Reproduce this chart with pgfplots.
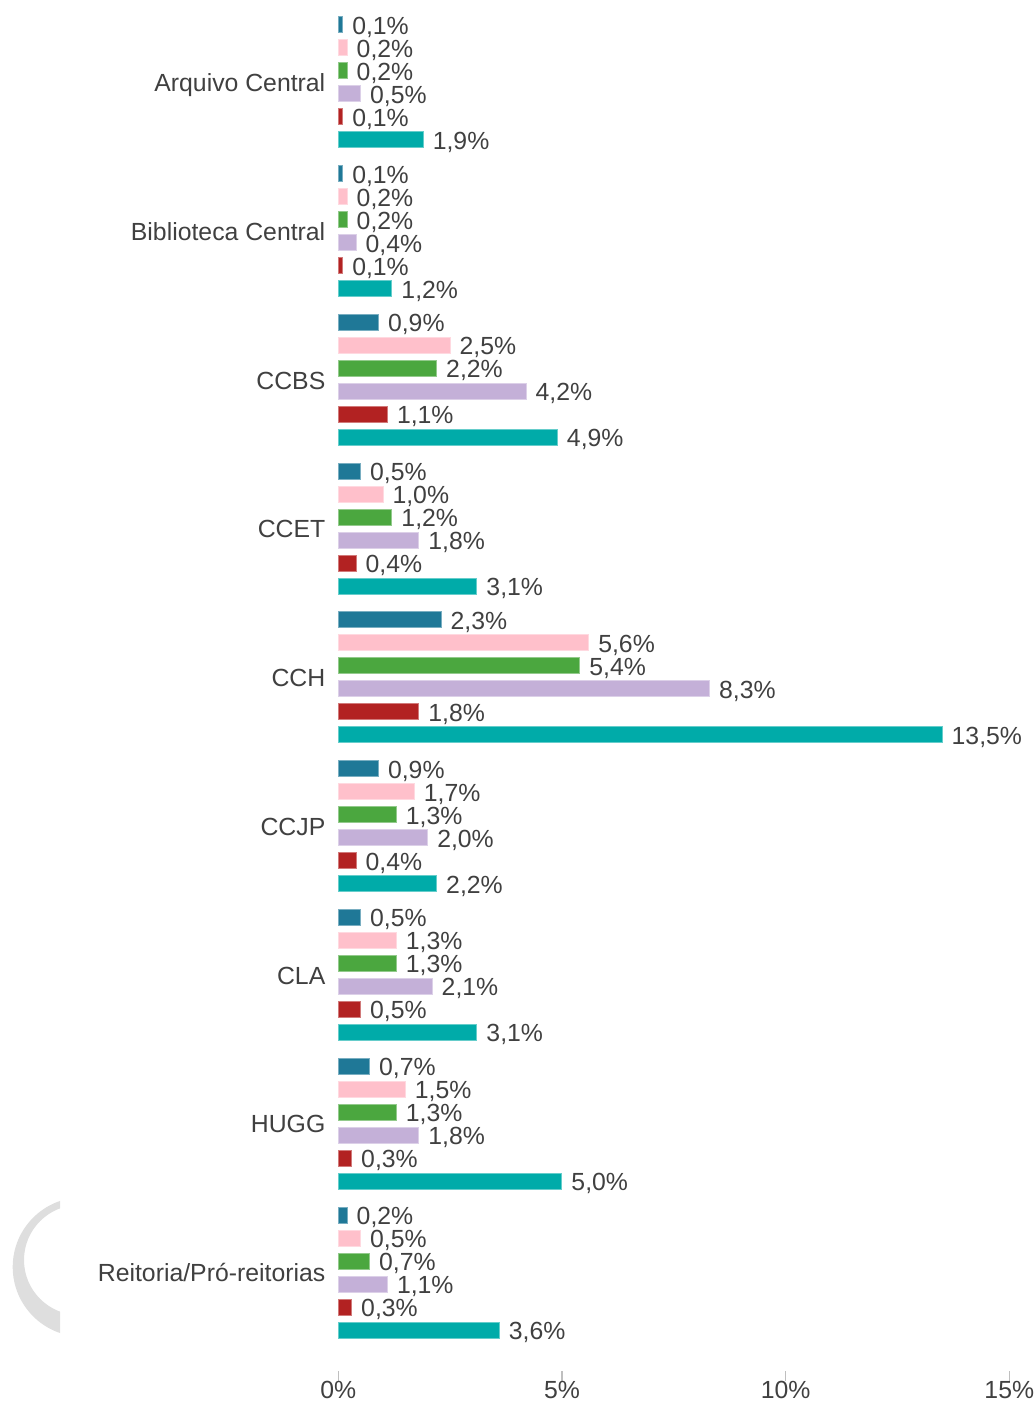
\documentclass[border=0pt]{standalone}
\usepackage{fontspec}
\setmainfont{Liberation Sans}
\usepackage{pgfplots}
\pgfplotsset{compat=1.18}
\definecolor{cBlue}{HTML}{1F7897}
\definecolor{cPink}{HTML}{FFC0CB}
\definecolor{cGreen}{HTML}{4BA73F}
\definecolor{cLav}{HTML}{C4B0D8}
\definecolor{cRed}{HTML}{B22222}
\definecolor{cTeal}{HTML}{00ABA9}
\definecolor{txt}{HTML}{404040}
\definecolor{wm}{HTML}{DEDEDE}
\begin{document}
\fontsize{12.4}{15}\selectfont
\begin{tikzpicture}[x=1pt,y=1pt,font=\fontsize{12.4}{15}\selectfont]
\useasboundingbox (0,0) rectangle (518,701.5);
\begin{scope}
\clip (0,30) rectangle (30,110);
\fill[wm, even odd rule] (41.2,68) circle (34.85) (39.5,71.5) circle (27.5);
\end{scope}
\begin{axis}[
  at={(169.15pt,11pt)}, anchor=south west,
  scale only axis, width=335.5pt, height=686.45pt,
  xmin=0, xmax=15, ymin=-0.7294, ymax=8.5,
  clip=false,
  xbar, bar width=8pt,
  axis line style={draw=none},
  xtick={0,5,10,15}, xticklabels={0\%,5\%,10\%,15\%},
  xtick pos=left, tick align=inside, major tick length=5pt,
  xtick style={draw=black!25, line width=0.6pt},
  ytick={0,...,8},
  yticklabels={Reitoria/Pró-reitorias, HUGG, CLA, CCJP, CCH, CCET, CCBS, Biblioteca Central, Arquivo Central},
  ytick style={draw=none},
  yticklabel style={anchor=base east, inner sep=0pt, xshift=-6.3pt, yshift=-4.6pt, text=txt},
  xticklabel style={anchor=base, inner sep=0pt, yshift=-8.6pt, text=txt},
  point meta=x,
  nodes near coords={\pgfmathprintnumber[fixed,fixed zerofill,precision=1,use comma,assume math mode=true]{\pgfplotspointmeta}\%},
  nodes near coords style={anchor=base west, inner sep=0pt, xshift=4.5pt, yshift=-4.7pt, text=txt},
]
\addplot[fill=cBlue, draw=cBlue!60!white, line width=0.5pt, bar shift=28.75pt] coordinates {
(0.2,0) (0.7,1) (0.5,2) (0.9,3) (2.3,4) (0.5,5) (0.9,6) (0.1,7) (0.1,8)};
\addplot[fill=cPink, draw=cPink!60!white, line width=0.5pt, bar shift=17.25pt] coordinates {
(0.5,0) (1.5,1) (1.3,2) (1.7,3) (5.6,4) (1.0,5) (2.5,6) (0.2,7) (0.2,8)};
\addplot[fill=cGreen, draw=cGreen!60!white, line width=0.5pt, bar shift=5.75pt] coordinates {
(0.7,0) (1.3,1) (1.3,2) (1.3,3) (5.4,4) (1.2,5) (2.2,6) (0.2,7) (0.2,8)};
\addplot[fill=cLav, draw=cLav!60!white, line width=0.5pt, bar shift=-5.75pt] coordinates {
(1.1,0) (1.8,1) (2.1,2) (2.0,3) (8.3,4) (1.8,5) (4.2,6) (0.4,7) (0.5,8)};
\addplot[fill=cRed, draw=cRed!60!white, line width=0.5pt, bar shift=-17.25pt] coordinates {
(0.3,0) (0.3,1) (0.5,2) (0.4,3) (1.8,4) (0.4,5) (1.1,6) (0.1,7) (0.1,8)};
\addplot[fill=cTeal, draw=cTeal!60!white, line width=0.5pt, bar shift=-28.75pt] coordinates {
(3.6,0) (5.0,1) (3.1,2) (2.2,3) (13.5,4) (3.1,5) (4.9,6) (1.2,7) (1.9,8)};
\end{axis}
\end{tikzpicture}
\end{document}
